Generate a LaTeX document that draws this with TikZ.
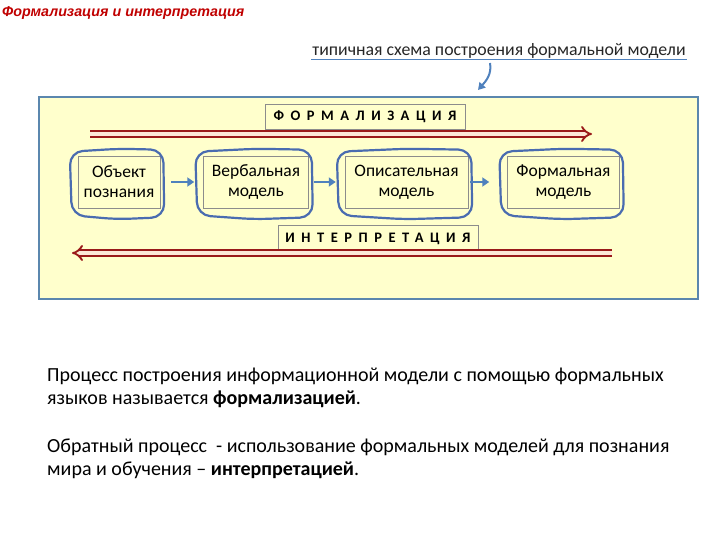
\documentclass[tikz,border=0pt]{standalone}
\usepackage{fontspec}
\setmainfont{Carlito}
\newfontfamily\titlefont{Liberation Sans}
\usetikzlibrary{arrows.meta,positioning,calc}
\definecolor{panelfill}{HTML}{FFFFCC}
\definecolor{panelline}{HTML}{5B87AE}
\definecolor{loopblue}{HTML}{4A6CB0}
\definecolor{flowblue}{HTML}{4F81BD}
\definecolor{darkred}{HTML}{9A1A1A}
\definecolor{arrowfill}{HTML}{FCE8D8}
\definecolor{titlered}{HTML}{C00000}
\definecolor{muted}{HTML}{8C8C8C}

\begin{document}
\begin{tikzpicture}[x=1pt, y=-1pt,
    node distance=38pt,
    modelbox/.style={
      draw=muted,
      line width=0.5pt,
      minimum height=52pt,
      inner sep=2pt,
      align=center,
      font=\fontsize{17.5}{20}\selectfont
    },
    stagebox/.style={
      draw=muted,
      line width=0.5pt,
      minimum width=200pt,
      minimum height=25pt,
      font=\fontsize{14.5}{16}\selectfont\bfseries\addfontfeature{LetterSpace=45}
    },
    loopline/.style={draw=loopblue, line width=2.2pt, rounded corners=13pt},
    flowarrow/.style={-{Triangle[length=7pt,width=9pt]}, line width=2.6pt, draw=flowblue},
    bigarrow/.style={-{Implies}, double=arrowfill, double distance=3.4pt, line width=1.9pt, draw=darkred},
    notearrow/.style={-{Triangle[length=7pt,width=8pt]}, line width=2pt, draw=flowblue}
  ]
    \useasboundingbox (0,0) rectangle (720,540);

    \node[anchor=west, text=titlered, font=\titlefont\fontsize{14.3}{16}\selectfont\bfseries\itshape, inner sep=0pt]
      (title) at (2,13) {Формализация и интерпретация};

    \node[font=\fontsize{17.8}{20}\selectfont, text=black!85, inner sep=1pt] (note) at (499,51)
      {типичная схема построения формальной модели};
    \draw[flowblue, line width=1pt] (note.south west) -- (note.south east);

    % panel
    \node[draw=panelline, fill=panelfill, line width=1.8pt, minimum width=659pt, minimum height=202pt,
      anchor=north west, inner sep=0pt] (panel) at (38,96) {};

    \coordinate (noteStart) at (490,63);
    \coordinate (noteEnd) at (478,90);
    \draw[notearrow] (noteStart) .. controls (492,74) and (486,81) .. (noteEnd);

    \node[stagebox] (formalization) at (365,117) {ФОРМАЛИЗАЦИЯ};
    \node[stagebox, minimum height=27pt] (interpretation) at (378,239) {ИНТЕРПРЕТАЦИЯ};

    \coordinate (formStart) at (90,134);
    \coordinate (formEnd) at (592,134);
    \coordinate (interpStart) at (612,253);
    \coordinate (interpEnd) at (72,253);
    \draw[bigarrow] (formStart) -- (formEnd);
    \draw[bigarrow] (interpStart) -- (interpEnd);

    \node[modelbox, minimum width=82pt] (object) at (119,182) {Объект\\познания};
    \node[modelbox, minimum width=105pt, right=43pt of object] (verbal) {Вербальная\\модель};
    \node[modelbox, minimum width=123pt, right=36pt of verbal] (descriptive) {Описательная\\модель};
    \node[modelbox, minimum width=112pt, right=39pt of descriptive] (formal) {Формальная\\модель};

    \foreach \n in {object,verbal,descriptive,formal}
      \draw[loopline] ($(\n.north west)+(-8,-4)$) -- ($(\n.north)+(0,-7)$) -- ($(\n.north east)+(3,-6)$)
        -- ($(\n.south east)+(4,9)$) -- ($(\n.south)+(-2,11)$) -- ($(\n.south west)+(-6,7)$) -- cycle;

    \draw[flowarrow, shorten <=11pt, shorten >=9pt] (object) -- (verbal);
    \draw[flowarrow, shorten <=5pt, shorten >=9pt] (verbal) -- (descriptive);
    \draw[flowarrow, shorten <=2pt, shorten >=18pt] (descriptive) -- (formal);

    % definitions
    \node[anchor=north west, align=left, inner sep=0pt, font=\fontsize{20}{23}\selectfont]
      (definitions) at (47,368)
      {Процесс построения информационной модели с помощью формальных\\
       языков называется \textbf{формализацией}.\\[25pt]
       Обратный процесс \ - использование формальных моделей для познания\\
       мира и обучения – \textbf{интерпретацией}.};
  \end{tikzpicture}
\end{document}
